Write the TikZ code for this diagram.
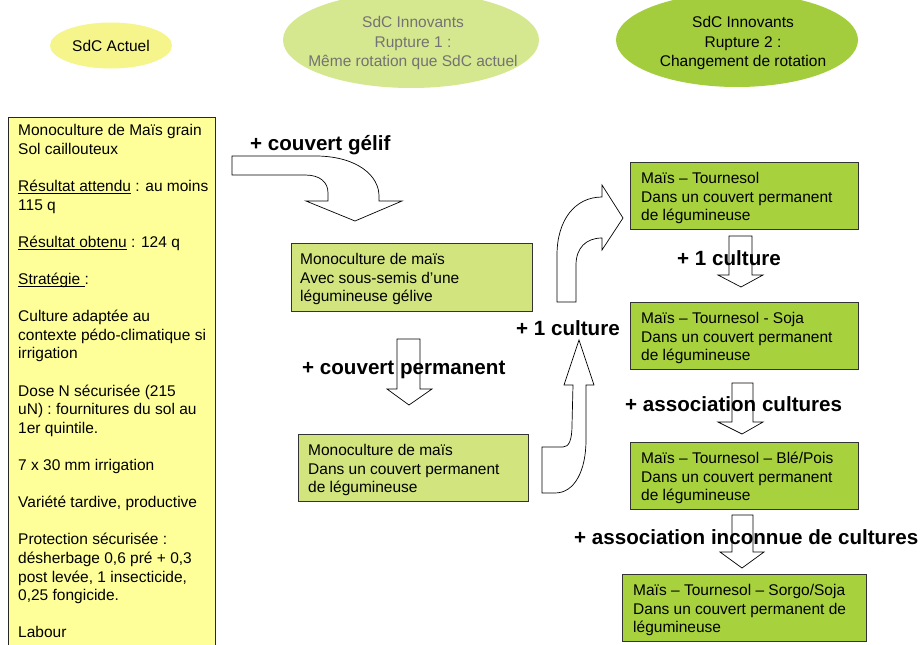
\documentclass[tikz,border=0pt]{standalone}
\usepackage{fontspec}
\setmainfont{Liberation Sans}
\definecolor{lyellow}{RGB}{255,255,153}
\definecolor{eyellow}{RGB}{245,245,140}
\definecolor{egreen}{RGB}{213,231,143}
\definecolor{edark}{RGB}{163,205,60}
\definecolor{bgreen}{RGB}{210,228,125}
\definecolor{rgreen}{RGB}{168,209,62}
\newcommand\myul[1]{\setbox0\hbox{#1}\rlap{\rule[-2.5pt]{\wd0}{0.9pt}}\box0\relax}
\begin{document}
\begin{tikzpicture}[x=1pt,y=-1pt]
\tikzset{
  body/.style={font=\fontsize{15.5}{18.6}\selectfont, align=left, inner sep=0pt, anchor=base west},
  etext/.style={font=\fontsize{15.5}{19.5}\selectfont, align=center, inner sep=0pt, anchor=base},
  lbl/.style={font=\bfseries\fontsize{20.6}{24}\selectfont, inner sep=0pt, anchor=base west},
  blockarrow/.style={draw=black, fill=white, line width=0.7pt, line join=miter},
  midbox/.style={draw=black!80, fill=bgreen, line width=0.9pt},
  rightbox/.style={draw=black!80, fill=rgreen, line width=0.9pt},
}
\useasboundingbox (0,0) rectangle (921,645);
\fill[white] (0,0) rectangle (921,645);

% ellipses (base anchor = baseline of last line)
\fill[eyellow] (111,45.5) ellipse [x radius=61, y radius=23];
\node[etext] (e1) at (111,51) {SdC Actuel};
\fill[egreen] (411,40) ellipse [x radius=128, y radius=48];
\node[etext, text=black!55] (e2) at (413,66.6) {SdC Innovants\\Rupture 1 :\\Même rotation que SdC actuel};
\fill[edark] (737,40) ellipse [x radius=121, y radius=47];
\node[etext] (e3) at (743,66.6) {SdC Innovants\\Rupture 2 :\\Changement de rotation};

% left box
\draw[fill=lyellow, draw=black!85, line width=0.9pt] (8,117) rectangle (215,660);
\node[body] (ltxt) at (18,637.8) {Monoculture de Maïs grain\\Sol caillouteux\\[18.6pt]\myul{Résultat attendu} : au moins\\115 q\\[18.6pt]\myul{Résultat obtenu} : 124 q\\[18.6pt]\myul{Stratégie }:\\[18.6pt]Culture adaptée au\\contexte pédo-climatique si\\irrigation\\[18.6pt]Dose N sécurisée (215\\uN) : fournitures du sol au\\1er quintile.\\[18.6pt]7 x 30 mm irrigation\\[18.6pt]Variété tardive, productive\\[18.6pt]Protection sécurisée :\\désherbage 0,6 pré + 0,3\\post levée, 1 insecticide,\\0,25 fongicide.\\[18.6pt]Labour};

% middle boxes
\draw[midbox] (291,243) rectangle (532,311);
\node[body] (b1) at (300,301.8) {Monoculture de maïs\\Avec sous-semis d’une\\légumineuse gélive};
\draw[midbox] (298,434) rectangle (528,501);
\node[body] (b2) at (308,492.8) {Monoculture de maïs\\Dans un couvert permanent\\de légumineuse};

% right boxes
\draw[rightbox] (630,162) rectangle (858,229);
\node[body] (r1) at (641,220.8) {Maïs – Tournesol\\Dans un couvert permanent\\de légumineuse};
\draw[rightbox] (630,302) rectangle (858,369);
\node[body] (r2) at (641,360.8) {Maïs – Tournesol - Soja\\Dans un couvert permanent\\de légumineuse};
\draw[rightbox] (630,442) rectangle (858,509);
\node[body] (r3) at (641,500.8) {Maïs – Tournesol – Blé/Pois\\Dans un couvert permanent\\de légumineuse};
\draw[rightbox] (622,574) rectangle (866,641);
\node[body] (r4) at (633,632.8) {Maïs – Tournesol – Sorgo/Soja\\Dans un couvert permanent de\\légumineuse};

% block arrows
\draw[blockarrow] (232,156) -- (318,156) .. controls (358,157) and (379,176) .. (379,196) -- (379,201)
  -- (402,201) -- (355,221) -- (306,201) -- (328,201) -- (328,193)
  .. controls (328,182) and (320,175) .. (305,175) -- (232,175) -- cycle;
\draw[blockarrow] (397,339) -- (420,339) -- (420,389) -- (432,389) -- (409,405) -- (387,389) -- (397,389) -- cycle;
\draw[blockarrow] (542,447) -- (563,447) .. controls (569,447) and (572,440) .. (572,425) -- (573,385)
  -- (564,385) -- (579,340) -- (594,385) -- (586,385) -- (586,440)
  .. controls (586,470) and (575,493) .. (555,493) -- (542,493) -- cycle;
\draw[blockarrow] (557,302) -- (557,255) .. controls (557,220) and (575,197) .. (602,197)
  -- (602,185) -- (623,218) -- (602,250) -- (602,238)
  .. controls (586,238) and (576,248) .. (576,265) -- (576,302) -- cycle;
\draw[blockarrow] (729,236) -- (752,236) -- (752,275) -- (763,275) -- (741,287) -- (718,275) -- (729,275) -- cycle;
\draw[blockarrow] (732,383) -- (753,383) -- (753,422) -- (763,422) -- (742,434) -- (718,422) -- (732,422) -- cycle;
\draw[blockarrow] (732,515) -- (753,515) -- (753,552) -- (764,552) -- (742,568) -- (720,552) -- (732,552) -- cycle;

% labels
\node[lbl] (l1) at (250,150.4) {+ couvert gélif};
\node[lbl] (l2) at (302,374.4) {+ couvert permanent};
\node[lbl] (l3) at (516,335.4) {+ 1 culture};
\node[lbl] (l4) at (677,265.4) {+ 1 culture};
\node[lbl] (l5) at (625,411.4) {+ association cultures};
\node[lbl] (l6) at (574,544) {+ association inconnue de cultures};
\end{tikzpicture}
\end{document}
